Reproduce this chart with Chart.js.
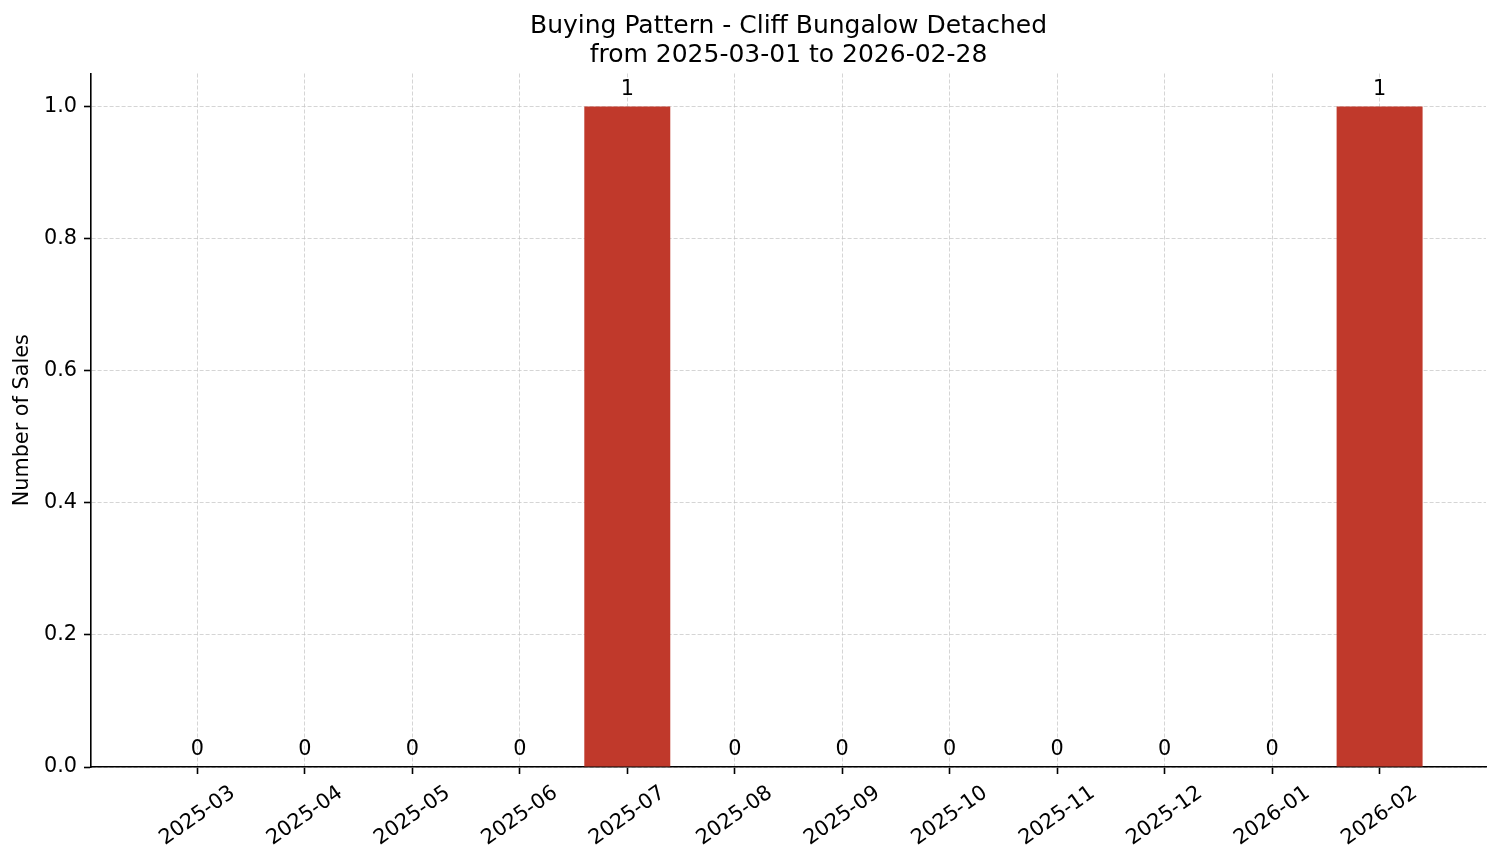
<!DOCTYPE html>
<html>
<head>
  <script src="https://cdn.jsdelivr.net/npm/chart.js"></script>
  <style>
    body { margin: 0; background: #fff; }
    #wrap { width: 1501px; height: 863px; }
  </style>
</head>
<body>
  <div id="wrap"><canvas id="myChart"></canvas></div>

  <script>
    // data
    var months = ['2025-03', '2025-04', '2025-05', '2025-06', '2025-07', '2025-08',
                  '2025-09', '2025-10', '2025-11', '2025-12', '2026-01', '2026-02'];
    var sales = [0, 0, 0, 0, 1, 0, 0, 0, 0, 0, 0, 1];
    var yTicks = [0, 0.2, 0.4, 0.6, 0.8, 1.0];
    var titleLines = ['Buying Pattern - Cliff Bungalow Detached', 'from 2025-03-01 to 2026-02-28'];

    var FONT = '"DejaVu Sans", sans-serif';

    // value labels over the bars + rotated month labels centred under the ticks
    var labelPlugin = {
      id: 'labelPlugin',
      afterDraw: function (chart) {
        var ctx = chart.ctx;
        var xs = chart.scales.x;
        var area = chart.chartArea;
        var meta = chart.getDatasetMeta(0);
        ctx.save();
        ctx.fillStyle = '#000';
        ctx.font = '20.8px ' + FONT;
        ctx.textAlign = 'center';
        ctx.textBaseline = 'alphabetic';
        meta.data.forEach(function (bar, i) {
          ctx.fillText(String(sales[i]), bar.x, bar.y - 12);
        });
        months.forEach(function (m, i) {
          ctx.save();
          ctx.translate(xs.getPixelForValue(i), area.bottom + 49);
          ctx.rotate(-35 * Math.PI / 180);
          ctx.textBaseline = 'middle';
          ctx.fillText(m, 0, 0);
          ctx.restore();
        });
        ctx.restore();
      }
    };

    var ctx = document.getElementById('myChart').getContext('2d');
    var myChart = new Chart(ctx, {
      type: 'bar',
      data: {
        datasets: [{
          label: 'Sales',
          data: sales.map(function (v, i) { return { x: i, y: v }; }),
          backgroundColor: '#C0392B',
          borderWidth: 0,
          categoryPercentage: 0.8,
          barPercentage: 1.0
        }]
      },
      plugins: [labelPlugin],
      options: {
        responsive: true,
        maintainAspectRatio: false,
        animation: false,
        layout: { padding: { left: 0, right: 15, top: 0, bottom: 0 } },
        plugins: {
          legend: { display: false },
          tooltip: { enabled: false },
          title: {
            display: true,
            fullSize: false,
            text: titleLines,
            color: '#000',
            font: { family: FONT, size: 25, weight: 'normal', lineHeight: 1.15 },
            padding: { top: 12, bottom: 4 }
          }
        },
        scales: {
          x: {
            type: 'linear',
            min: -0.99,
            max: 11.99,
            offset: false,
            z: 1,
            afterBuildTicks: function (s) {
              s.ticks = months.map(function (m, i) { return { value: i }; });
            },
            afterFit: function (s) { s.height = 96; },
            ticks: { display: false },
            grid: {
              offset: false,
              color: 'rgba(195,195,195,0.7)',
              lineWidth: 1,
              tickLength: 7,
              tickColor: '#000',
              tickWidth: 1.6,
              tickBorderDash: []
            },
            border: { display: true, color: '#000', width: 1.6, dash: [4, 2] }
          },
          y: {
            min: 0,
            max: 1.05,
            z: 1,
            afterBuildTicks: function (s) {
              s.ticks = yTicks.map(function (v) { return { value: v }; });
            },
            afterFit: function (s) { s.width = 91; },
            ticks: {
              color: '#000',
              padding: 7,
              font: { family: FONT, size: 20.8 },
              callback: function (v) { return Number(v).toFixed(1); }
            },
            grid: {
              color: 'rgba(195,195,195,0.7)',
              lineWidth: 1,
              tickLength: 7,
              tickColor: '#000',
              tickWidth: 1.6,
              tickBorderDash: []
            },
            border: { display: true, color: '#000', width: 1.6, dash: [4, 2] },
            title: {
              display: true,
              text: 'Number of Sales',
              color: '#000',
              font: { family: FONT, size: 20.8, lineHeight: 1.2 },
              padding: { top: 10, bottom: 0 }
            }
          }
        }
      }
    });
  </script>
</body>
</html>
